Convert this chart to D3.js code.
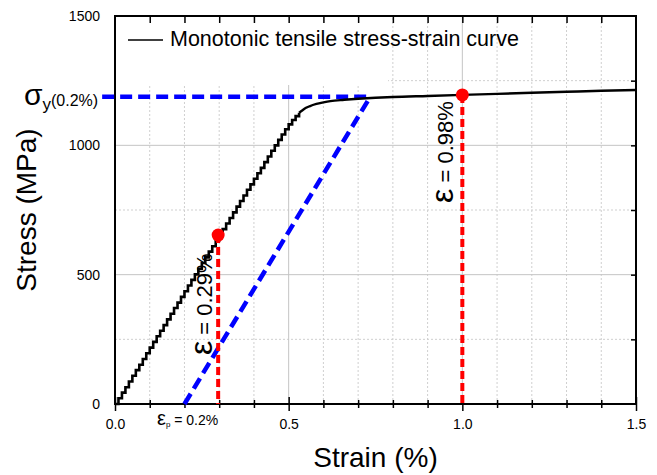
<!DOCTYPE html>
<html>
<head>
<meta charset="utf-8">
<script src="https://cdn.jsdelivr.net/npm/d3@7"></script>
<style>
body { margin: 0; background: #fff; }
text { font-family: "Liberation Sans", Arial, sans-serif; fill: #000; }
</style>
</head>
<body>
<script>
// measured curve (stepped part read every 0.01 %)
var strainDense = [0, 0.01, 0.02, 0.03, 0.04, 0.05, 0.06, 0.07, 0.08, 0.09,
    0.10, 0.11, 0.12, 0.13, 0.14, 0.15, 0.16, 0.17, 0.18, 0.19,
    0.20, 0.21, 0.22, 0.23, 0.24, 0.25, 0.26, 0.27, 0.28, 0.29,
    0.30, 0.31, 0.32, 0.33, 0.34, 0.35, 0.36, 0.37, 0.38, 0.39,
    0.40, 0.41, 0.42, 0.43, 0.44, 0.45, 0.46, 0.47, 0.48, 0.49,
    0.50, 0.51, 0.52, 0.53]
var stressDense = [0, 22, 44, 65, 87, 109, 131, 152, 174, 196,
    218, 240, 262, 283, 305, 327, 349, 371, 392, 414,
    436, 458, 480, 501, 523, 545, 567, 589, 610, 632,
    654, 676, 698, 719, 741, 763, 785, 806, 828, 849,
    871, 892, 913, 935, 957, 979, 1000, 1021, 1042, 1062,
    1081, 1098, 1113, 1126]
var strainTail = [0.53, 0.54, 0.55, 0.56, 0.58, 0.60, 0.62, 0.66, 0.70, 0.75, 0.80, 0.90, 1.00, 1.10, 1.20, 1.30, 1.40, 1.50]
var stressTail = [1126, 1136, 1145, 1151, 1160, 1166, 1171, 1176, 1180, 1184, 1187, 1191, 1195, 1199, 1203, 1207, 1211, 1214]

var xMajor = [0, 0.5, 1.0, 1.5]
var xMinor = [0.1, 0.2, 0.3, 0.4, 0.6, 0.7, 0.8, 0.9, 1.1, 1.2, 1.3, 1.4]
var yMajor = [0, 500, 1000, 1500]
var yMinor = [250, 750, 1250]

var markStrain = [0.297, 1.0]
var markStress = [653, 1195]
var markText = [' = 0.29%', ' = 0.98%']

var yieldStress = 1188
var yieldStrainStart = -0.037
var offsetStrain = [0.2, 0.735]
var offsetStress = [0, 1188]

var width = 657, height = 475
var x = d3.scaleLinear().domain([0, 1.5]).range([115, 636])
var y = d3.scaleLinear().domain([0, 1500]).range([404, 16])

var svg = d3.select('body').append('svg').attr('width', width).attr('height', height)

// grid
svg.append('g').selectAll('line').data(xMinor).enter().append('line')
    .attr('x1', d => x(d)).attr('x2', d => x(d)).attr('y1', y(0)).attr('y2', y(1500))
    .attr('stroke', '#cfcfcf').attr('stroke-width', 1).attr('stroke-dasharray', '2,2')
svg.append('g').selectAll('line').data(yMinor).enter().append('line')
    .attr('y1', d => y(d)).attr('y2', d => y(d)).attr('x1', x(0)).attr('x2', x(1.5))
    .attr('stroke', '#cfcfcf').attr('stroke-width', 1).attr('stroke-dasharray', '2,2')
svg.append('g').selectAll('line').data([0.5, 1.0]).enter().append('line')
    .attr('x1', d => x(d)).attr('x2', d => x(d)).attr('y1', y(0)).attr('y2', y(1500))
    .attr('stroke', '#c4c4c4').attr('stroke-width', 1)
svg.append('g').selectAll('line').data([500, 1000]).enter().append('line')
    .attr('y1', d => y(d)).attr('y2', d => y(d)).attr('x1', x(0)).attr('x2', x(1.5))
    .attr('stroke', '#c4c4c4').attr('stroke-width', 1)

// legend box covers grid
svg.append('rect').attr('x', x(0) + 1).attr('y', y(1500) + 1).attr('width', 272).attr('height', 68).attr('fill', '#fff')
svg.append('line').attr('x1', 128).attr('x2', 163).attr('y1', 40).attr('y2', 40)
    .attr('stroke', '#000').attr('stroke-width', 1.6)
svg.append('text').attr('x', 170).attr('y', 46).attr('font-size', 21.5)
    .text('Monotonic tensile stress-strain curve')

// axes
function crossTicks(g, size, dir) {
    g.select('.domain').remove()
    g.selectAll('.tick line').attr(dir, -size).attr('stroke-width', 1.5)
}
svg.append('g').attr('transform', 'translate(0,' + y(0) + ')')
    .call(d3.axisBottom(x).tickValues(xMinor).tickSize(4).tickFormat(''))
    .call(g => crossTicks(g, 4, 'y1'))
svg.append('g').attr('transform', 'translate(0,' + y(0) + ')')
    .call(d3.axisBottom(x).tickValues(xMajor).tickSize(7).tickPadding(8).tickFormat(d3.format('.1f')))
    .call(g => crossTicks(g, 7, 'y1'))
    .selectAll('text').attr('font-size', 14).attr('font-family', '"Liberation Sans", Arial, sans-serif')
svg.append('g').attr('transform', 'translate(' + x(0) + ',0)')
    .call(d3.axisLeft(y).tickValues(yMinor).tickSize(4).tickFormat(''))
    .call(g => crossTicks(g, 4, 'x1'))
svg.append('g').attr('transform', 'translate(' + x(0) + ',0)')
    .call(d3.axisLeft(y).tickValues(yMajor).tickSize(8).tickPadding(7).tickFormat(d3.format('d')))
    .call(g => crossTicks(g, 8, 'x1'))
    .selectAll('text').attr('font-size', 14).attr('font-family', '"Liberation Sans", Arial, sans-serif')
svg.append('g').attr('transform', 'translate(0,' + y(1500) + ')')
    .call(d3.axisTop(x).tickValues(xMinor.concat([0.5, 1.0])).tickSize(-7).tickFormat(''))
    .call(g => { g.select('.domain').remove(); g.selectAll('.tick line').attr('stroke-width', 1.5) })
svg.append('g').attr('transform', 'translate(' + x(1.5) + ',0)')
    .call(d3.axisRight(y).tickValues([250, 500, 750, 1000, 1250]).tickSize(-5).tickFormat(''))
    .call(g => { g.select('.domain').remove(); g.selectAll('.tick line').attr('stroke-width', 1.5) })

svg.append('rect').attr('x', x(0)).attr('y', y(1500)).attr('width', x(1.5) - x(0)).attr('height', y(0) - y(1500))
    .attr('fill', 'none').attr('stroke', '#000').attr('stroke-width', 2)

// axis titles
svg.append('text').attr('x', (x(0) + x(1.5)) / 2).attr('y', 467).attr('text-anchor', 'middle')
    .attr('font-size', 28).text('Strain (%)')
svg.append('text').attr('transform', 'translate(36,' + (y(0) + y(1500)) / 2 + ') rotate(-90)')
    .attr('text-anchor', 'middle').attr('font-size', 28).text('Stress (MPa)')

// 0.2 % offset construction
svg.append('line').attr('x1', x(yieldStrainStart)).attr('x2', x(offsetStrain[1]))
    .attr('y1', y(yieldStress)).attr('y2', y(yieldStress))
    .attr('stroke', '#0000ff').attr('stroke-width', 4.5).attr('stroke-dasharray', '12,6')
svg.append('line').attr('x1', x(offsetStrain[0])).attr('y1', y(offsetStress[0]))
    .attr('x2', x(offsetStrain[1])).attr('y2', y(offsetStress[1]))
    .attr('stroke', '#0000ff').attr('stroke-width', 4.5).attr('stroke-dasharray', '12,6')

// curve
var dense = strainDense.map((d, i) => [d, stressDense[i]])
var tail = strainTail.map((d, i) => [d, stressTail[i]])
svg.append('path').datum(dense)
    .attr('d', d3.line().x(d => x(d[0])).y(d => y(d[1])).curve(d3.curveStepAfter))
    .attr('fill', 'none').attr('stroke', '#000').attr('stroke-width', 2.6)
svg.append('path').datum(tail)
    .attr('d', d3.line().x(d => x(d[0])).y(d => y(d[1])).curve(d3.curveMonotoneX))
    .attr('fill', 'none').attr('stroke', '#000').attr('stroke-width', 2.4)

// marked points
svg.append('g').selectAll('line').data(markStrain).enter().append('line')
    .attr('x1', d => x(d)).attr('x2', d => x(d))
    .attr('y1', (d, i) => y(markStress[i])).attr('y2', y(0))
    .attr('stroke', '#ff0000').attr('stroke-width', 4).attr('stroke-dasharray', '8,4')
svg.append('g').selectAll('circle').data(markStrain).enter().append('circle')
    .attr('cx', d => x(d)).attr('cy', (d, i) => y(markStress[i])).attr('r', 6.5).attr('fill', '#ff0000')

var labelShift = [[-6, 120], [-9, 108]]
markStrain.forEach(function (d, i) {
    var t = svg.append('text')
        .attr('transform', 'translate(' + (x(d) + labelShift[i][0]) + ',' + (y(markStress[i]) + labelShift[i][1]) + ') rotate(-90)')
        .attr('font-size', 22)
    t.append('tspan').attr('font-size', 32).text('ε')
    t.append('tspan').text(markText[i])
})

// σy(0.2%) label
var sl = svg.append('text').attr('x', 24).attr('y', 105)
sl.append('tspan').attr('font-size', 30).text('σ')
sl.append('tspan').attr('font-size', 17).attr('dy', 5).text('y')
sl.append('tspan').attr('font-size', 16).attr('dy', -4).text('(0.2%)')

// εp label
var el = svg.append('text').attr('x', 157).attr('y', 425)
el.append('tspan').attr('font-size', 20).text('ε')
el.append('tspan').attr('font-size', 8).attr('dy', 2).text('p')
el.append('tspan').attr('font-size', 14).attr('dy', -2).text(' = 0.2%')
</script>
</body>
</html>
